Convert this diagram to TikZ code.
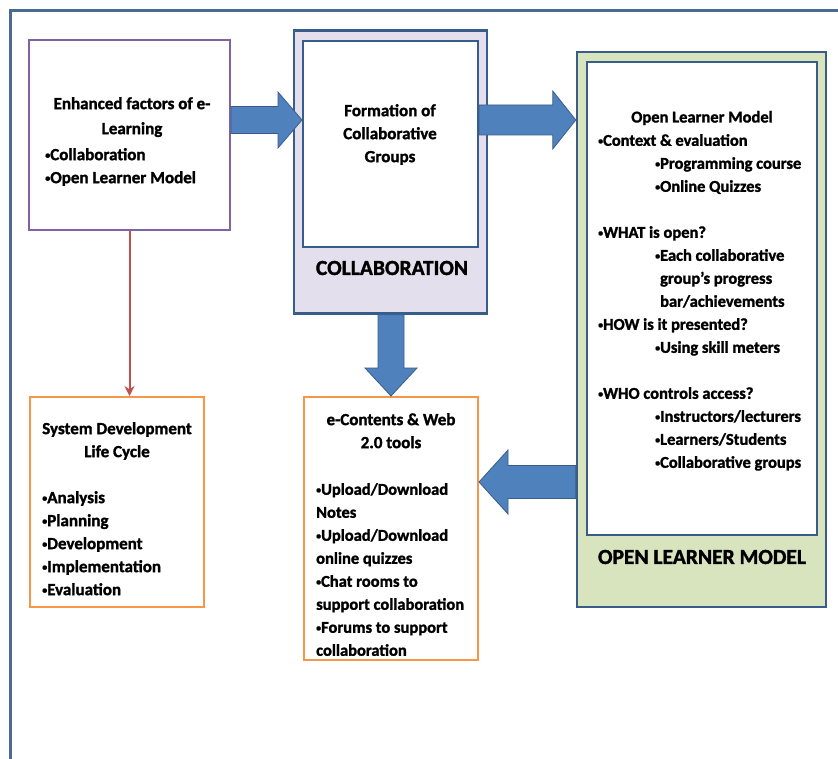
\documentclass[tikz,border=0pt]{standalone}
\usepackage{graphicx}
\usepackage{fontspec}
\setmainfont{Carlito}[BoldFeatures={FakeBold=1.5}]
\usetikzlibrary{calc,arrows.meta}
\definecolor{frameblue}{HTML}{4A6A8E}
\definecolor{boxblue}{HTML}{385D8A}
\definecolor{arrowfill}{HTML}{4F81BD}
\definecolor{purplebox}{HTML}{8064A2}
\definecolor{orangebox}{HTML}{F79646}
\definecolor{redline}{HTML}{C0504D}
\definecolor{lavender}{HTML}{E4DFEC}
\definecolor{lightgreen}{HTML}{D7E4BD}
\newcommand\bul{\raisebox{0.2ex}{\scalebox{0.6}{•}}}
\tikzset{
  panel/.style={draw, line width=2pt, fill=white, inner sep=0pt},
  purplepanel/.style={panel, draw=purplebox},
  orangepanel/.style={panel, draw=orangebox},
  groupouter/.style={panel, draw=boxblue, line width=2.5pt},
  groupinner/.style={panel, draw=boxblue, line width=2pt},
  bodytext/.style={inner sep=0pt, font=\bfseries\fontsize{17}{23}\selectfont},
  olmtext/.style={inner sep=0pt, font=\bfseries\fontsize{16.5}{23}\selectfont},
  headtext/.style={bodytext, align=center, anchor=north},
  listtext/.style={bodytext, align=left, anchor=north west},
  bigtext/.style={inner sep=0pt, font=\bfseries\fontsize{21.5}{24}\selectfont},
  blockarrow/.style={fill=arrowfill, draw=boxblue, line width=0.8pt, line join=miter},
}
\begin{document}
\begin{tikzpicture}[x=1pt,y=-1pt]
\useasboundingbox (0,0) rectangle (838,759);
\fill[white] (0,0) rectangle (838,759);
% outer frame
\coordinate (frTR) at (838,11);
\coordinate (frTL) at (10,11);
\coordinate (frBL) at (10,759);
\draw[frameblue, line width=3pt] (frTR) -- (frTL) -- (frBL);

% boxes
\node[purplepanel, minimum width=201pt, minimum height=190pt] (enh) at (129.5,135) {};
\node[orangepanel, minimum width=174pt, minimum height=210pt] (sdlc) at (117,502) {};
\node[groupouter, fill=lavender, minimum width=193pt, minimum height=283pt] (collout) at (390.5,172) {};
\node[groupinner, minimum width=175pt, minimum height=206pt] (collin) at (390.5,144) {};
\node[orangepanel, minimum width=174pt, minimum height=263pt] (econt) at (391,528.5) {};
\node[groupouter, fill=lightgreen, minimum width=249pt, minimum height=555pt] (olmout) at (701.5,329.5) {};
\node[groupinner, minimum width=230pt, minimum height=473pt] (olmin) at (702,298.5) {};

% row / column coordinates for arrows
\coordinate (rowA) at (0,120);
\coordinate (rowB) at (0,482);
\coordinate (colC) at (391,0);

% arrow 1: enh -> collin
\coordinate (a1s) at (enh.east |- rowA);
\coordinate (a1t) at (collin.west |- rowA);
\draw[blockarrow] ($(a1s)+(0,-13.5)$) -- ($(a1t)+(-24,-13.5)$) -- ($(a1t)+(-24,-28)$) -- (a1t)
  -- ($(a1t)+(-24,28)$) -- ($(a1t)+(-24,13.5)$) -- ($(a1s)+(0,13.5)$) -- cycle;

% arrow 2: collin -> olmout
\coordinate (a2s) at (collin.east |- rowA);
\coordinate (a2t) at (olmout.west |- rowA);
\draw[blockarrow] ($(a2s)+(0,-15)$) -- ($(a2t)+(-23,-15)$) -- ($(a2t)+(-23,-29)$) -- (a2t)
  -- ($(a2t)+(-23,29)$) -- ($(a2t)+(-23,15)$) -- ($(a2s)+(0,15)$) -- cycle;

% arrow 3: collout -> econt (down)
\coordinate (a3s) at (collout.south -| colC);
\coordinate (a3t) at (econt.north -| colC);
\draw[blockarrow] ($(a3s)+(-13,0)$) -- ($(a3t)+(-13,-28)$) -- ($(a3t)+(-26,-28)$) -- (a3t)
  -- ($(a3t)+(26,-28)$) -- ($(a3t)+(13,-28)$) -- ($(a3s)+(13,0)$) -- cycle;

% arrow 4: olmout -> econt (left)
\coordinate (a4s) at (olmout.west |- rowB);
\coordinate (a4t) at (econt.east |- rowB);
\draw[blockarrow] ($(a4s)+(0,-16.5)$) -- ($(a4t)+(29,-16.5)$) -- ($(a4t)+(29,-32)$) -- (a4t)
  -- ($(a4t)+(29,32)$) -- ($(a4t)+(29,16.5)$) -- ($(a4s)+(0,16.5)$) -- cycle;

% red connector enh -> sdlc
\draw[redline, line width=2pt, -{Stealth[length=10pt,width=10pt]}] (enh.south) -- (enh.south |- sdlc.north);

% texts: enhanced factors
\node[headtext] (enhH) at (132,97) {Enhanced factors of e-\\[2pt]Learning};
\node[listtext] (enhL) at (45,148) {\bul Collaboration\\\bul Open Learner Model};

% collaboration
\node[headtext] (collH) at (390,104) {Formation of\\Collaborative\\Groups};
\node[bigtext] (collLbl) at (392,268) {COLLABORATION};

% sdlc
\node[headtext] (sdlcH) at (117,422) {System Development\\Life Cycle};
\node[listtext] (sdlcL) at (42,491) {\bul Analysis\\\bul Planning\\\bul Development\\\bul Implementation\\\bul Evaluation};

% e-contents
\node[headtext] (econtH) at (391,413) {e-Contents \& Web\\2.0 tools};
\node[olmtext, align=left, anchor=north west] (econtL) at (316,483) {\bul Upload/Download\\Notes\\\bul Upload/Download\\online quizzes\\\bul Chat rooms to\\support collaboration\\\bul Forums to support\\collaboration};

% open learner model
\node[olmtext] (olmH) at (702,118) {Open Learner Model};
\node[olmtext, align=left, anchor=north west] (olmL) at (598,134) {\bul Context \& evaluation\\
\hspace*{57pt}\bul Programming course\\
\hspace*{57pt}\bul Online Quizzes\\[23pt]
\bul WHAT is open?\\
\hspace*{57pt}\bul Each collaborative\\
\hspace*{57pt}\phantom{\bul}group’s progress\\
\hspace*{57pt}\phantom{\bul}bar/achievements\\
\bul HOW is it presented?\\
\hspace*{57pt}\bul Using skill meters\\[23pt]
\bul WHO controls access?\\
\hspace*{57pt}\bul Instructors/lecturers\\
\hspace*{57pt}\bul Learners/Students\\
\hspace*{57pt}\bul Collaborative groups};
\node[bigtext] (olmLbl) at (702,557) {OPEN LEARNER MODEL};
\end{tikzpicture}
\end{document}
